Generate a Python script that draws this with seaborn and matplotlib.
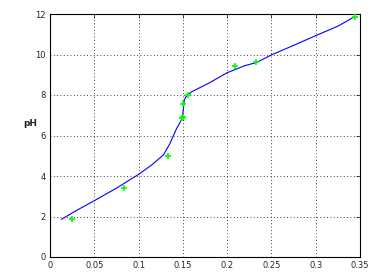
import matplotlib
matplotlib.use("Agg")
import matplotlib.pyplot as plt
import seaborn as sns
import pandas as pd

# measured points (green +)
meas_x = [0.0248, 0.084, 0.1336, 0.1494, 0.1498, 0.1505, 0.1554, 0.2093, 0.2329, 0.344]
meas_ph = [1.88, 3.39, 5.0, 6.85, 6.93, 7.54, 7.98, 9.43, 9.61, 11.87]

# fitted curve (blue)
fit_x = [0.0128, 0.03, 0.05, 0.075, 0.1, 0.115, 0.128, 0.1355, 0.143, 0.1494,
         0.1516, 0.1535, 0.155, 0.16, 0.18, 0.2, 0.22, 0.233, 0.25, 0.275,
         0.3, 0.325, 0.344]
fit_ph = [1.86, 2.3, 2.78, 3.4, 4.08, 4.55, 5.04, 5.61, 6.35, 6.85,
          7.75, 7.91, 7.98, 8.16, 8.6, 9.1, 9.45, 9.6, 9.98, 10.45,
          10.93, 11.4, 11.87]

xticks = [0, 0.05, 0.1, 0.15, 0.2, 0.25, 0.3, 0.35]
xticklabels = ["0", "0.05", "0.1", "0.15", "0.2", "0.25", "0.3", "0.35"]
yticks = [0, 2, 4, 6, 8, 10, 12]

sns.set_style("white")
plt.rcParams["font.family"] = ["DejaVu Sans"]

fig = plt.figure(figsize=(3.72, 2.73), dpi=100)
ax = fig.add_axes([50 / 372, 16 / 273, 310 / 372, 243 / 273])

fit_df = pd.DataFrame({"x": fit_x, "pH": fit_ph})
meas_df = pd.DataFrame({"x": meas_x, "pH": meas_ph})

sns.lineplot(data=fit_df, x="x", y="pH", sort=False, estimator=None,
             color="#0000ff", linewidth=0.8, ax=ax)
sns.scatterplot(data=meas_df, x="x", y="pH", marker="+", color="#00ff00",
                s=14, linewidth=1.2, ax=ax, zorder=3)

ax.set_xlim(0, 0.35)
ax.set_ylim(0, 12)
ax.set_xticks(xticks)
ax.set_xticklabels(xticklabels)
ax.set_yticks(yticks)
ax.grid(True, color="black", linestyle=(0, (1, 3)), linewidth=0.6)
ax.tick_params(direction="in", length=3, width=0.6, labelsize=6,
               top=True, right=True, pad=3)
for s in ax.spines.values():
    s.set_color("black")
    s.set_linewidth(0.8)

ax.set_xlabel("")
ax.set_ylabel("pH", rotation=0, fontsize=6.5, fontweight="bold", color="#222222")
ax.yaxis.set_label_coords(-0.065, 0.53)

fig.savefig("out.png", dpi=100)
